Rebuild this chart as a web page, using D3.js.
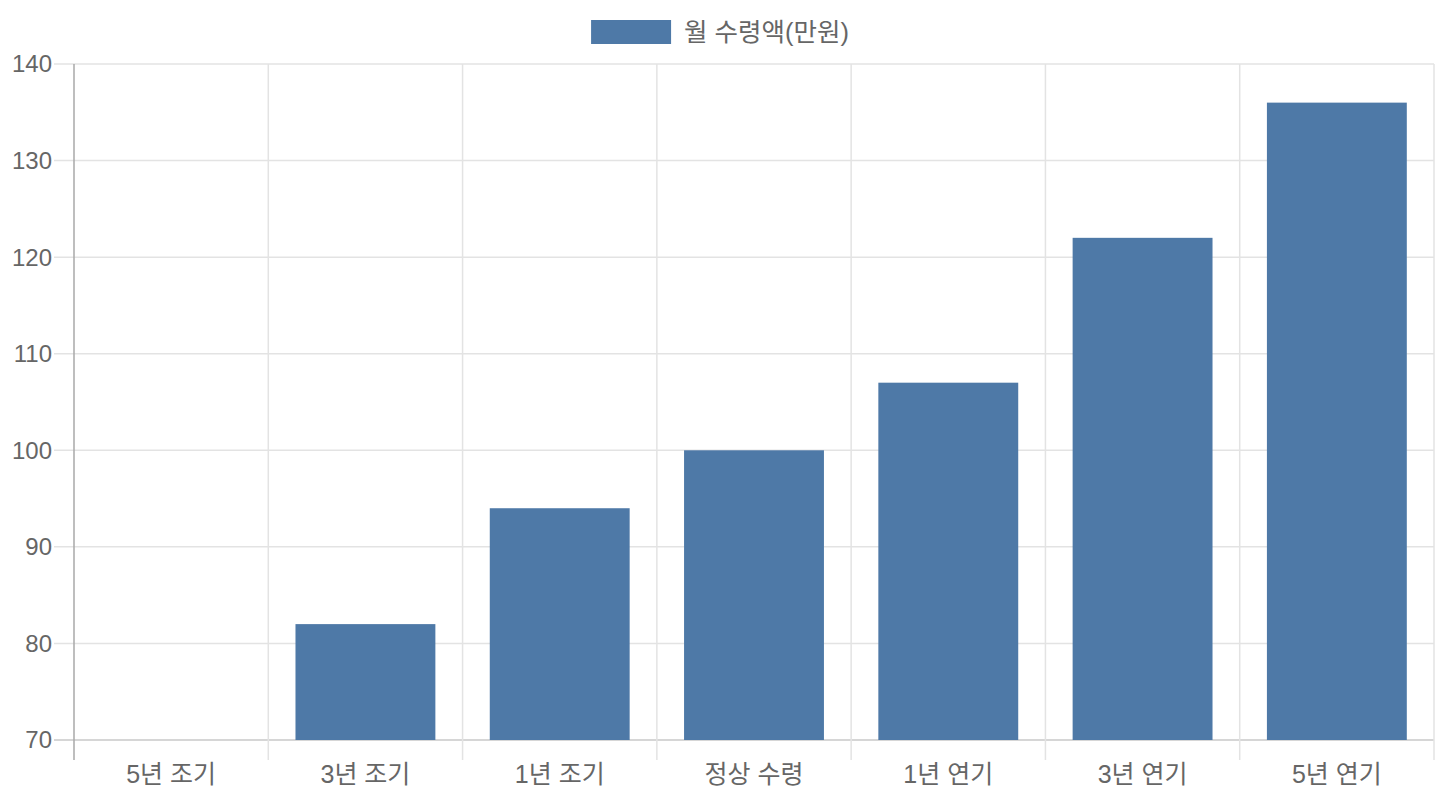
<!DOCTYPE html>
<html>
<head>
<meta charset="utf-8">
<script src="https://cdn.jsdelivr.net/npm/d3@7"></script>
<style>
  body { margin: 0; background: #fff; }
  svg text { font-family: "Liberation Sans", Arial, "Noto Sans CJK KR", sans-serif; fill: #666; }
</style>
</head>
<body>
<div id="chart"></div>
<script>
// chart data
const categories = ["5년 조기", "3년 조기", "1년 조기", "정상 수령", "1년 연기", "3년 연기", "5년 연기"];
const monthly = [70, 82, 94, 100, 107, 122, 136];
const yTicks = [70, 80, 90, 100, 110, 120, 130, 140];
const seriesName = "월 수령액(만원)";

const WIDTH = 1440, HEIGHT = 800;
const margin = {top: 64, right: 6, bottom: 60, left: 74};
const plotW = WIDTH - margin.left - margin.right;
const plotH = HEIGHT - margin.top - margin.bottom;
const barColor = "#4e79a7";

const svg = d3.select("#chart")
    .append("svg")
    .attr("width", WIDTH)
    .attr("height", HEIGHT);

const g = svg.append("g")
    .attr("transform", `translate(${margin.left},${margin.top})`);

let x = d3.scaleBand()
    .domain(categories)
    .range([0, plotW])
    .paddingInner(0)
    .paddingOuter(0);

let y = d3.scaleLinear()
    .domain([70, 140])
    .range([plotH, 0]);

// horizontal grid + left tick marks
g.append("g")
    .selectAll("line")
    .data(yTicks)
    .enter()
    .append("line")
    .attr("x1", -20)
    .attr("x2", plotW)
    .attr("y1", d => y(d))
    .attr("y2", d => y(d))
    .attr("stroke", d => d === 70 ? "#c8c8c8" : "#e3e3e3")
    .attr("stroke-width", 1.5);

// vertical grid lines at category boundaries
let bounds = categories.map(c => x(c)).concat([plotW]);
g.append("g")
    .selectAll("line")
    .data(bounds)
    .enter()
    .append("line")
    .attr("x1", d => d)
    .attr("x2", d => d)
    .attr("y1", 0)
    .attr("y2", plotH + 20)
    .attr("stroke", (d, i) => i === 0 ? "#a8a8a8" : "#e3e3e3")
    .attr("stroke-width", 1.5);

// bars
const barW = x.bandwidth() * 0.72;
g.selectAll("rect.bar")
    .data(monthly)
    .enter()
    .append("rect")
    .attr("class", "bar")
    .attr("x", (d, i) => x(categories[i]) + (x.bandwidth() - barW) / 2)
    .attr("y", d => y(d))
    .attr("width", barW)
    .attr("height", d => plotH - y(d))
    .attr("fill", barColor);

// y tick labels
g.append("g")
    .selectAll("text")
    .data(yTicks)
    .enter()
    .append("text")
    .attr("x", -22)
    .attr("y", d => y(d))
    .attr("dy", "0.35em")
    .style("text-anchor", "end")
    .style("font-size", "24px")
    .text(d => d);

// x tick labels
g.append("g")
    .selectAll("text")
    .data(categories)
    .enter()
    .append("text")
    .attr("x", d => x(d) + x.bandwidth() / 2)
    .attr("y", plotH + 34)
    .attr("dy", "0.35em")
    .style("text-anchor", "middle")
    .style("font-size", "25px")
    .text(d => d);

// legend, centred on the whole canvas
const legend = svg.append("g");
const legendText = legend.append("text")
    .attr("y", 32)
    .attr("dy", "0.35em")
    .style("font-size", "25.5px")
    .text(seriesName);
const tw = legendText.node().getComputedTextLength();
const total = 80 + 13 + tw;
const lx = WIDTH / 2 - total / 2;
legend.append("rect")
    .attr("x", lx)
    .attr("y", 20)
    .attr("width", 80)
    .attr("height", 24)
    .attr("fill", barColor);
legendText.attr("x", lx + 93);
</script>
</body>
</html>
